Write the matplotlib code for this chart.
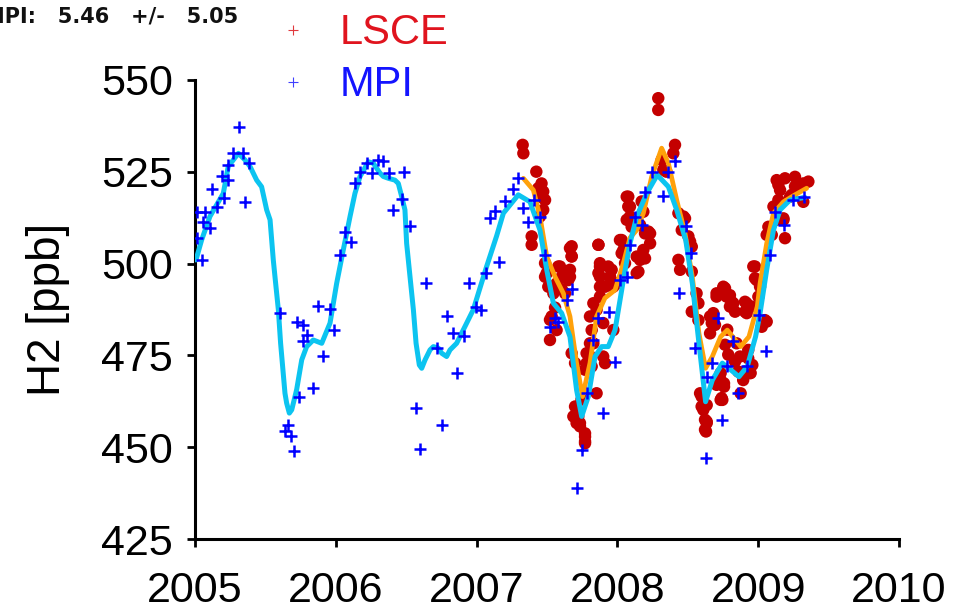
"""H2 mixing ratio time series: LSCE flasks vs MPI flasks, with smooth fits."""

import matplotlib

matplotlib.use("Agg")
import matplotlib.pyplot as plt
from matplotlib.lines import Line2D

plt.rcParams["font.family"] = ["Liberation Sans", "DejaVu Sans"]

# MPI flask samples (decimal year, ppb)
mpi_t = [
    2005.012, 2005.012, 2005.047, 2005.059, 2005.071, 2005.107, 2005.123, 2005.154,
    2005.194, 2005.208, 2005.231, 2005.231, 2005.273, 2005.315, 2005.344, 2005.355,
    2005.387, 2005.604, 2005.658, 2005.639, 2005.682, 2005.705, 2005.722, 2005.741,
    2005.769, 2005.769, 2005.793, 2005.836, 2005.871, 2005.912, 2005.959, 2005.987,
    2006.030, 2006.065, 2006.108, 2006.136, 2006.172, 2006.219, 2006.259, 2006.297,
    2006.337, 2006.380, 2006.407, 2006.471, 2006.483, 2006.527, 2006.572, 2006.598,
    2006.637, 2006.716, 2006.752, 2006.791, 2006.834, 2006.862, 2006.910, 2006.946,
    2006.996, 2007.031, 2007.064, 2007.095, 2007.131, 2007.161, 2007.202, 2007.256,
    2007.296, 2007.327, 2007.367, 2007.407, 2007.450, 2007.486, 2007.521, 2007.557,
    2007.580, 2007.640, 2007.675, 2007.714, 2007.745, 2007.781, 2007.829, 2007.864,
    2007.899, 2007.940, 2007.983, 2008.018, 2008.066, 2008.089, 2008.125, 2008.172,
    2008.196, 2008.243, 2008.326, 2008.362, 2008.409, 2008.440, 2008.485, 2008.520,
    2008.551, 2008.629, 2008.638, 2008.670, 2008.712, 2008.745, 2008.775, 2008.823,
    2008.853, 2008.917, 2009.005, 2009.055, 2009.084, 2009.119, 2009.183, 2009.249,
    2009.325,
]
mpi_h2 = [
    513.9, 506.9, 501.0, 511.4, 514.1, 509.6, 520.3, 515.3,
    523.8, 517.8, 526.8, 522.7, 530.2, 537.2, 530.0, 516.7,
    527.4, 486.6, 456.1, 454.5, 453.1, 449.1, 484.2, 463.6,
    483.3, 478.8, 480.6, 466.2, 488.5, 474.9, 487.6, 481.9,
    502.3, 508.7, 506.0, 522.0, 525.0, 527.3, 524.6, 528.2,
    527.9, 524.7, 514.6, 517.6, 525.0, 510.2, 460.6, 449.6,
    494.6, 477.0, 456.1, 485.8, 481.0, 470.2, 480.4, 494.8,
    488.3, 487.4, 497.5, 512.3, 514.4, 500.5, 517.0, 520.2,
    523.2, 515.0, 511.4, 517.3, 512.8, 502.3, 482.8, 485.1,
    484.2, 490.1, 493.0, 439.0, 449.3, 464.7, 479.2, 485.1,
    459.3, 486.9, 473.3, 495.5, 496.4, 505.1, 512.8, 510.5,
    519.6, 525.0, 518.4, 525.0, 528.0, 492.1, 510.2, 503.0,
    477.0, 447.2, 469.2, 473.0, 485.1, 457.5, 472.0, 479.0,
    464.7, 472.0, 486.0, 476.3, 502.3, 514.1, 510.5, 517.3,
    518.0,
]

# LSCE flask samples (decimal year, ppb)
lsce_t = [
    2007.327, 2007.332, 2007.424, 2007.461, 2007.473, 2007.486, 2007.473, 2007.450,
    2007.391, 2007.391, 2007.486, 2007.509, 2007.545, 2007.580, 2007.663, 2007.675,
    2007.663, 2007.651, 2007.521, 2007.533, 2007.568, 2007.675, 2007.699, 2007.781,
    2007.805, 2007.817, 2007.699, 2007.722, 2007.734, 2007.770, 2007.770, 2007.745,
    2007.865, 2007.876, 2007.876, 2007.876, 2007.912, 2007.947, 2007.959, 2007.995,
    2008.030, 2008.042, 2008.077, 2008.077, 2007.829, 2007.852, 2007.899, 2007.899,
    2007.912, 2007.852, 2007.557, 2007.605, 2007.620,
    2007.450, 2007.438, 2007.675, 2007.675, 2007.663, 2007.592, 2007.604, 2007.568,
    2007.533, 2007.498, 2007.486, 2007.628, 2007.521, 2007.805, 2007.817, 2007.829,
    2007.805, 2007.781, 2007.865, 2007.876, 2007.865, 2007.876, 2007.935, 2007.947,
    2007.971, 2008.018, 2008.030, 2008.054, 2008.066, 2008.089, 2008.137, 2008.137,
    2007.971, 2007.793, 2007.770, 2007.687, 2007.710, 2007.734, 2007.770, 2007.770,
    2008.290, 2008.290, 2008.409, 2008.397, 2008.314, 2008.326, 2008.089, 2008.066,
    2008.101, 2008.196, 2008.232, 2008.184, 2008.161, 2008.149, 2008.232, 2008.433,
    2008.469, 2008.457, 2008.504, 2008.528, 2008.433, 2008.445, 2008.528, 2008.562,
    2008.575, 2008.575, 2008.658, 2008.670, 2008.704, 2008.752, 2008.775, 2008.799,
    2008.823, 2008.917, 2008.965, 2008.989, 2009.001, 2008.598, 2008.610, 2008.634,
    2008.622, 2008.733, 2008.757, 2008.733, 2008.846, 2008.870, 2008.893, 2008.941,
    2008.929, 2008.780,
    2008.348, 2008.172, 2008.184, 2008.161, 2008.220, 2008.196, 2008.480, 2008.516,
    2008.528, 2008.693, 2008.764, 2008.811, 2008.835, 2008.906, 2008.977, 2009.060,
    2008.764, 2008.787, 2008.835, 2008.859, 2008.906, 2008.929, 2008.634, 2008.634,
    2008.704, 2008.740,
    2009.131, 2009.155, 2009.143, 2009.108, 2009.131, 2009.179, 2009.190, 2009.261,
    2009.261, 2009.320, 2009.356, 2009.320, 2009.226, 2009.072, 2009.060, 2008.977,
    2009.013, 2009.048, 2009.025, 2008.953, 2008.752, 2008.704, 2008.799, 2008.906,
    2008.918, 2008.681, 2008.658, 2008.733, 2008.757, 2008.745, 2008.875, 2008.958,
    2008.946, 2008.587, 2008.598, 2008.622, 2008.629,
    2009.096, 2009.143, 2009.190, 2009.308, 2009.238, 2009.179,
]
lsce_h2 = [
    532.3, 530.0, 525.0, 521.8, 519.6, 517.3, 514.6, 512.8,
    507.4, 505.1, 496.4, 493.7, 491.9, 499.2, 504.2, 501.9,
    498.3, 495.5, 479.2, 485.6, 481.9, 475.6, 472.9, 475.6,
    478.3, 472.0, 461.1, 458.4, 456.6, 452.9, 451.1, 463.0,
    505.1, 499.2, 496.4, 493.7, 493.7, 496.4, 498.3, 494.6,
    506.4, 503.7, 518.2, 515.5, 489.2, 487.4, 483.8, 474.7,
    472.9, 464.7, 488.0, 493.0, 497.5,
    518.2, 520.5, 504.7, 502.0, 496.4, 499.2, 496.4, 494.6,
    493.7, 497.4, 500.1, 491.9, 484.7, 485.6, 481.9, 478.3,
    474.7, 472.9, 505.1, 500.1, 497.4, 491.0, 499.2, 496.4,
    493.7, 506.4, 502.8, 500.1, 518.2, 512.8, 501.9, 497.4,
    481.9, 475.6, 471.1, 458.4, 456.6, 455.7, 453.8, 451.6,
    545.0, 541.8, 532.3, 530.0, 528.2, 525.5, 515.5, 511.9,
    510.0, 508.2, 505.5, 503.7, 501.0, 497.8, 508.2, 513.7,
    512.8, 509.1, 507.4, 504.6, 501.0, 498.3, 497.8, 491.9,
    489.2, 484.6, 485.6, 483.8, 491.0, 493.3, 491.0, 488.3,
    489.2, 489.2, 499.2, 495.5, 491.0, 463.8, 460.2, 456.6,
    454.8, 470.2, 467.4, 462.9, 478.3, 474.7, 468.3, 470.2,
    476.5, 482.0,
    525.0, 516.9, 514.1, 510.5, 508.7, 501.4, 512.3, 506.0,
    486.9, 483.3, 493.3, 489.6, 486.9, 486.9, 496.0, 484.2,
    477.9, 475.2, 473.3, 470.6, 470.6, 474.2, 461.5, 457.0,
    467.0, 463.4,
    522.7, 520.0, 517.3, 515.5, 511.9, 511.9, 506.9, 523.6,
    521.0, 521.8, 522.3, 516.8, 518.2, 510.0, 507.8, 499.2,
    493.7, 484.6, 482.8, 488.3, 493.7, 491.9, 491.4, 489.6,
    486.5, 486.5, 481.0, 468.3, 466.5, 462.9, 464.7, 472.4,
    470.2, 464.7, 461.1, 457.5, 454.3,
    507.8, 521.4, 523.2, 521.4, 518.7, 512.3,
]

# smooth fit through the MPI record
mpi_fit_t = [
    2005.007, 2005.047, 2005.106, 2005.201, 2005.236, 2005.308, 2005.355, 2005.391,
    2005.438, 2005.473, 2005.509, 2005.533, 2005.556, 2005.568, 2005.592, 2005.608,
    2005.639, 2005.651, 2005.670, 2005.687, 2005.722, 2005.758, 2005.793, 2005.840,
    2005.900, 2005.959, 2006.006, 2006.053, 2006.077, 2006.101, 2006.136, 2006.172,
    2006.231, 2006.266, 2006.291, 2006.314, 2006.337, 2006.373, 2006.420, 2006.444,
    2006.468, 2006.491, 2006.503, 2006.527, 2006.551, 2006.570, 2006.593, 2006.610,
    2006.634, 2006.669, 2006.693, 2006.728, 2006.752, 2006.787, 2006.811, 2006.858,
    2006.976, 2007.071, 2007.142, 2007.190, 2007.296, 2007.379, 2007.450, 2007.498,
    2007.545, 2007.604, 2007.663, 2007.710, 2007.746, 2007.793, 2007.841, 2007.888,
    2007.935, 2007.983, 2008.042, 2008.089, 2008.137, 2008.208, 2008.283, 2008.362,
    2008.421, 2008.485, 2008.532, 2008.579, 2008.626, 2008.674, 2008.745, 2008.804,
    2008.863, 2008.922, 2008.981, 2009.013, 2009.060, 2009.108, 2009.155, 2009.226,
    2009.332,
]
mpi_fit_h2 = [
    501.0, 506.4, 512.8, 519.1, 526.4, 530.0, 528.2, 526.4,
    522.7, 520.9, 514.6, 511.9, 501.0, 496.4, 487.4, 478.3,
    464.7, 462.0, 459.3, 460.2, 465.7, 473.8, 477.4, 479.2,
    478.3, 483.8, 494.6, 503.7, 508.2, 512.8, 519.1, 523.7,
    527.7, 527.3, 525.9, 524.6, 523.7, 523.2, 522.7, 521.8,
    518.2, 514.6, 505.5, 496.4, 487.4, 478.3, 472.4, 471.5,
    473.8, 476.5, 477.4, 477.0, 475.6, 474.7, 476.5, 478.3,
    487.4, 499.2, 507.5, 513.7, 518.7, 516.8, 509.1, 498.3,
    489.2, 486.5, 480.1, 465.6, 458.4, 463.8, 474.7, 477.4,
    477.4, 481.9, 495.5, 505.5, 512.8, 519.1, 524.1, 520.9,
    514.6, 506.4, 494.6, 478.3, 462.4, 468.3, 472.9, 471.1,
    469.2, 472.0, 480.1, 486.5, 498.3, 509.1, 514.6, 517.3,
    518.0,
]

# smooth fit through the LSCE record
lsce_fit_t = [
    2007.332, 2007.403, 2007.450, 2007.498, 2007.557, 2007.616, 2007.663, 2007.710,
    2007.752, 2007.805, 2007.852, 2007.911, 2007.983, 2008.042, 2008.089, 2008.137,
    2008.184, 2008.243, 2008.314, 2008.362, 2008.421, 2008.480, 2008.532, 2008.579,
    2008.626, 2008.674, 2008.733, 2008.780, 2008.827, 2008.875, 2008.934, 2008.993,
    2009.013, 2009.060, 2009.108, 2009.179, 2009.261, 2009.344,
]
lsce_fit_h2 = [
    523.2, 520.0, 512.8, 501.9, 496.4, 491.9, 485.6, 472.9,
    463.8, 472.9, 485.6, 490.6, 492.8, 500.1, 507.0, 509.1,
    513.7, 523.6, 531.4, 527.3, 517.3, 508.2, 496.4, 481.0,
    471.5, 474.7, 480.1, 481.9, 479.7, 477.4, 480.1, 488.3,
    494.6, 505.5, 513.7, 516.8, 518.7, 520.5,
]

y_ticks = [425, 450, 475, 500, 525, 550]
x_ticks = [2005, 2006, 2007, 2008, 2009, 2010]

RED_DOT = "#C40000"
BLUE = "#0000FF"
CYAN = "#0CC4F0"
ORANGE = "#FFA10A"

fig = plt.figure(figsize=(9.54, 6.12), dpi=100)
ax = fig.add_axes([0.2044, 0.119, 0.738, 0.7506])

ax.scatter(lsce_t, lsce_h2, s=80, color=RED_DOT, edgecolors="none", zorder=2)
ax.plot(lsce_fit_t, lsce_fit_h2, color=ORANGE, lw=3.4, solid_capstyle="round",
        solid_joinstyle="round", zorder=3)
ax.plot(mpi_fit_t, mpi_fit_h2, color=CYAN, lw=3.6, solid_capstyle="round",
        solid_joinstyle="round", zorder=4)
ax.plot(mpi_t, mpi_h2, ls="", marker="+", ms=8, mew=1.8, color=BLUE, zorder=5)

ax.set_xlim(2005, 2010)
ax.set_ylim(425, 550)
ax.set_xticks(x_ticks)
ax.set_yticks(y_ticks)
ax.tick_params(axis="both", direction="out", length=6, width=2, labelsize=31)
ax.tick_params(axis="x", pad=17)
ax.tick_params(axis="y", pad=10)
ax.spines[["top", "right"]].set_visible(False)
for side in ("left", "bottom"):
    ax.spines[side].set_linewidth(2.2)
ax.set_ylabel("H2 [ppb]", fontsize=33, labelpad=22)

handles = [
    Line2D([], [], ls="", marker="+", ms=7, mew=0.8, color="#E0393E", label="LSCE"),
    Line2D([], [], ls="", marker="+", ms=7, mew=0.8, color="#4040FF", label="MPI"),
]
leg = ax.legend(
    handles=handles, loc="upper left", bbox_to_anchor=(268 / 954, 1 - 9 / 612),
    bbox_transform=fig.transFigure, frameon=False, fontsize=30,
    handlelength=1.0, handletextpad=0.63, labelspacing=0.29, borderpad=0.1,
    borderaxespad=0,
)
leg.get_texts()[0].set_color("#E0141E")
leg.get_texts()[1].set_color("#1414FF")

fig.text(-16 / 954, 1 - 17 / 612, "MPI:   5.46   +/-   5.05", fontsize=15,
         fontweight="bold", family="DejaVu Sans", va="center", ha="left",
         color="#111111")

fig.savefig("out.png", dpi=100)
